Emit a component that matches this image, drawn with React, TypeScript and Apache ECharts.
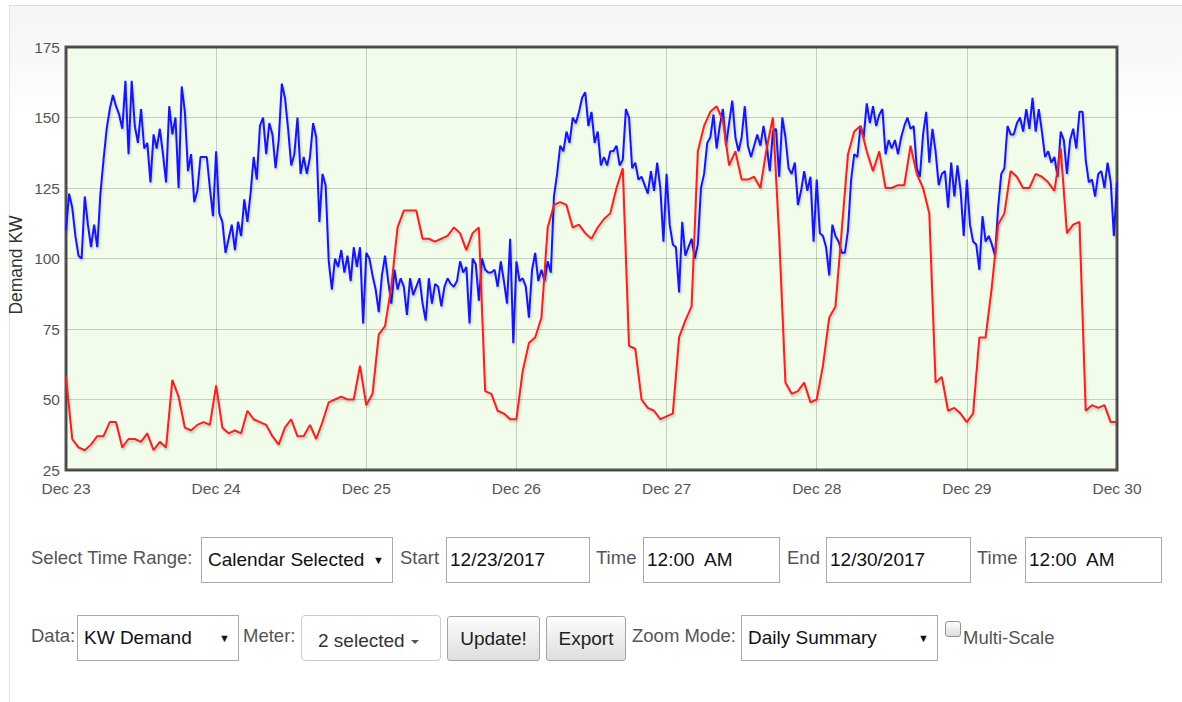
import React, { useEffect, useRef } from "react";
import * as echarts from "echarts";

// x axis: hours since Dec 23 00:00
const dayLabels = ["Dec 23", "Dec 24", "Dec 25", "Dec 26", "Dec 27", "Dec 28", "Dec 29", "Dec 30"];
const yTicks = [25, 50, 75, 100, 125, 150, 175];

// Meter 1 (blue), half-hourly KW demand, Dec 23 00:00 .. Dec 30 00:00
const blueDec23 = [110,123,118,108,101,100,122,112,104,112,104,123,135,146,153,158,154,151,146,163,137,163,147,141,153,139,141,127,144,139,146,137,127,154,144,150,125,161,152,131,137,120,124,136,136,136,125,115];
const blueDec24 = [138,116,113,102,107,112,103,113,108,121,113,123,136,128,147,150,137,148,144,132,142,162,157,146,133,137,150,130,136,130,136,148,143,113,130,126,99,89,100,97,103,95,101,92,104,97,104,77];
const blueDec25 = [102,100,94,89,81,94,101,92,84,96,89,93,90,80,93,87,90,93,84,78,93,84,91,90,83,90,93,91,90,92,99,95,97,77,100,98,85,100,96,95,95,96,90,99,92,84,107,70];
const blueDec26 = [99,92,93,90,79,96,102,92,96,92,99,95,122,130,140,138,145,141,150,148,152,157,159,147,152,141,145,133,136,133,138,138,140,133,135,153,150,132,134,128,129,126,123,131,124,134,125,106];
const blueDec27 = [130,112,105,104,88,113,101,104,107,100,105,125,130,141,143,151,139,147,153,140,148,156,143,138,143,154,140,136,140,144,140,147,140,131,145,146,129,150,143,132,130,134,119,124,131,124,129,106];
const blueDec28 = [128,109,108,104,94,112,108,106,102,102,110,128,137,136,147,143,155,148,154,147,151,153,137,142,139,142,137,143,147,150,146,147,132,129,144,152,134,146,138,126,130,131,118,134,122,133,124,108];
const blueDec29 = [128,112,106,105,96,115,106,108,105,101,118,130,132,147,144,144,148,150,145,153,146,157,145,153,145,136,138,134,136,129,145,142,130,142,146,139,152,152,135,127,128,122,130,131,125,134,127,108,127];

// Meter 2 (red), hourly KW demand
const redDec23 = [58,36,33,32,34,37,37,42,42,33,36,36,35,38,32,35,33,57,51,40,39,41,42,41];
const redDec24 = [55,40,38,39,38,46,43,42,41,37,34,40,43,37,37,41,36,42,49,50,51,50,50,62];
const redDec25 = [48,52,73,76,90,111,117,117,117,107,107,106,107,108,111,109,103,109,111,53,52,46,45,43];
const redDec26 = [43,60,70,72,79,111,119,120,119,111,112,109,107,111,114,116,125,132,69,68,50,47,46,43];
const redDec27 = [44,45,72,78,83,138,147,152,154,149,133,138,128,128,129,125,139,150,108,56,52,53,56,49];
const redDec28 = [50,62,79,83,110,137,145,147,138,131,138,125,125,126,126,140,130,125,116,56,58,46,47,45];
const redDec29 = [42,45,72,72,90,112,116,131,129,125,125,130,129,127,124,139,109,112,113,46,48,47,48,42,42];

const blueValues = [...blueDec23, ...blueDec24, ...blueDec25, ...blueDec26, ...blueDec27, ...blueDec28, ...blueDec29];
const redValues = [...redDec23, ...redDec24, ...redDec25, ...redDec26, ...redDec27, ...redDec28, ...redDec29];

const FONT = "Arial, 'Liberation Sans', sans-serif";

const labelStyle = (left: number, top: number): React.CSSProperties => ({
  position: "absolute",
  left,
  top,
  height: 46,
  display: "flex",
  alignItems: "center",
  fontSize: 18.5,
  color: "#555",
  whiteSpace: "nowrap",
  marginTop: -2,
});

function Label({ left, top, text }: { left: number; top: number; text: string }) {
  return <div style={labelStyle(left, top)}>{text}</div>;
}

function Box({ left, top, width, text, arrow }: { left: number; top: number; width: number; text: string; arrow?: boolean }) {
  return (
    <div
      style={{
        position: "absolute",
        left,
        top,
        width,
        height: 46,
        boxSizing: "border-box",
        border: "1px solid #aaa",
        background: "#fff",
        display: "flex",
        alignItems: "center",
        paddingLeft: arrow ? 6 : 3,
        fontSize: 19,
        color: "#111",
        whiteSpace: "pre",
      }}
    >
      <span>{text}</span>
      {arrow ? (
        <span style={{ position: "absolute", right: 8, top: 16, fontSize: 11, color: "#111" }}>▼</span>
      ) : null}
    </div>
  );
}

function Button({ left, top, width, text }: { left: number; top: number; width: number; text: string }) {
  return (
    <div
      style={{
        position: "absolute",
        left,
        top,
        width,
        height: 45,
        boxSizing: "border-box",
        border: "1px solid #a3a3a3",
        borderRadius: 3,
        background: "linear-gradient(#fdfdfd, #dedede)",
        display: "flex",
        alignItems: "center",
        justifyContent: "center",
        fontSize: 19,
        color: "#222",
        whiteSpace: "nowrap",
      }}
    >
      {text}
    </div>
  );
}

export default function App() {
  const ref = useRef<HTMLDivElement>(null);

  useEffect(() => {
    if (!ref.current) return;
    const chart = echarts.init(ref.current, null, { renderer: "svg" });
    chart.setOption({
      animation: false,
      backgroundColor: "transparent",
      grid: {
        show: true,
        left: 66,
        top: 47,
        width: 1051,
        height: 423,
        backgroundColor: "#f1fdea",
        borderColor: "#555",
        borderWidth: 3,
      },
      xAxis: {
        type: "value",
        min: 0,
        max: 168,
        interval: 24,
        axisLine: { show: false },
        axisTick: { show: false },
        splitLine: { show: true, lineStyle: { color: "rgba(0,0,0,0.18)", width: 1 } },
        axisLabel: {
          margin: 10,
          fontSize: 15.5,
          color: "#555",
          fontFamily: FONT,
          showMinLabel: true,
          showMaxLabel: true,
          formatter: (v: number) => dayLabels[Math.round(v / 24)],
        },
      },
      yAxis: {
        type: "value",
        min: yTicks[0],
        max: yTicks[yTicks.length - 1],
        interval: 25,
        axisLine: { show: false },
        axisTick: { show: false },
        splitLine: { show: true, lineStyle: { color: "rgba(0,0,0,0.18)", width: 1 } },
        axisLabel: { margin: 6, fontSize: 15.5, color: "#555", fontFamily: FONT },
      },
      graphic: [
        {
          type: "text",
          x: 16,
          y: 265,
          rotation: Math.PI / 2,
          style: {
            text: "Demand KW",
            align: "center",
            verticalAlign: "middle",
            fontSize: 17.5,
            fontFamily: FONT,
            fill: "#333",
          },
        },
      ],
      series: [
        {
          type: "line",
          name: "Meter 1",
          data: blueValues.map((v, i) => [i * 0.5, v]),
          showSymbol: false,
          symbol: "none",
          lineStyle: {
            color: "#1818f4",
            width: 2,
            shadowColor: "rgba(0,0,0,0.22)",
            shadowBlur: 2,
            shadowOffsetX: 1,
            shadowOffsetY: 2,
          },
          emphasis: { disabled: true },
          z: 2,
        },
        {
          type: "line",
          name: "Meter 2",
          data: redValues.map((v, i) => [i, v]),
          showSymbol: false,
          symbol: "none",
          lineStyle: {
            color: "#f42020",
            width: 2,
            shadowColor: "rgba(0,0,0,0.22)",
            shadowBlur: 2,
            shadowOffsetX: 1,
            shadowOffsetY: 2,
          },
          emphasis: { disabled: true },
          z: 3,
        },
      ],
    });
    return () => chart.dispose();
  }, []);

  return (
    <div
      style={{
        position: "absolute",
        left: 0,
        top: 0,
        width: 1182,
        height: 702,
        overflow: "hidden",
        background: "#fff",
        fontFamily: FONT,
      }}
    >
      <div
        style={{
          position: "absolute",
          left: 9,
          top: 5,
          right: 0,
          bottom: 0,
          borderTop: "1px solid #dcdcdc",
          borderLeft: "1px solid #e2e2e2",
          background: "linear-gradient(#f5f5f5 0px, #f8f8f8 45px, #ffffff 110px)",
        }}
      />
      <div ref={ref} style={{ position: "absolute", left: 0, top: 0, width: 1182, height: 510 }} />

      {/* Row 1 */}
      <Label left={31} top={537} text="Select Time Range:" />
      <Box left={201} top={537} width={192} text="Calendar Selected" arrow />
      <Label left={400} top={537} text="Start" />
      <Box left={446} top={537} width={144} text="12/23/2017" />
      <Label left={596} top={537} text="Time" />
      <Box left={643} top={537} width={137} text="12:00  AM" />
      <Label left={787} top={537} text="End" />
      <Box left={826} top={537} width={145} text="12/30/2017" />
      <Label left={977} top={537} text="Time" />
      <Box left={1025} top={537} width={137} text="12:00  AM" />

      {/* Row 2 */}
      <Label left={31} top={615} text="Data:" />
      <Box left={77} top={615} width={162} text="KW Demand" arrow />
      <Label left={243} top={615} text="Meter:" />
      <div
        style={{
          position: "absolute",
          left: 301,
          top: 615,
          width: 140,
          height: 46,
          boxSizing: "border-box",
          border: "1px solid #ccc",
          borderRadius: 4,
          background: "#fff",
          display: "flex",
          alignItems: "center",
          paddingLeft: 16,
          paddingTop: 6,
          fontSize: 19,
          color: "#333",
          whiteSpace: "nowrap",
        }}
      >
        2 selected
        <span
          style={{
            display: "inline-block",
            marginLeft: 6,
            marginTop: 2,
            width: 0,
            height: 0,
            borderLeft: "4px solid transparent",
            borderRight: "4px solid transparent",
            borderTop: "4px solid #555",
          }}
        />
      </div>
      <Button left={447} top={616} width={93} text="Update!" />
      <Button left={546} top={616} width={80} text="Export" />
      <Label left={632} top={615} text="Zoom Mode:" />
      <Box left={741} top={615} width={197} text="Daily Summary" arrow />
      <div
        style={{
          position: "absolute",
          left: 945,
          top: 621,
          width: 16,
          height: 16,
          boxSizing: "border-box",
          border: "1px solid #939393",
          borderRadius: 3,
          background: "linear-gradient(#ffffff, #dddddd)",
        }}
      />
      <div style={{ ...labelStyle(963, 615), marginTop: 0 }}>Multi-Scale</div>
    </div>
  );
}
